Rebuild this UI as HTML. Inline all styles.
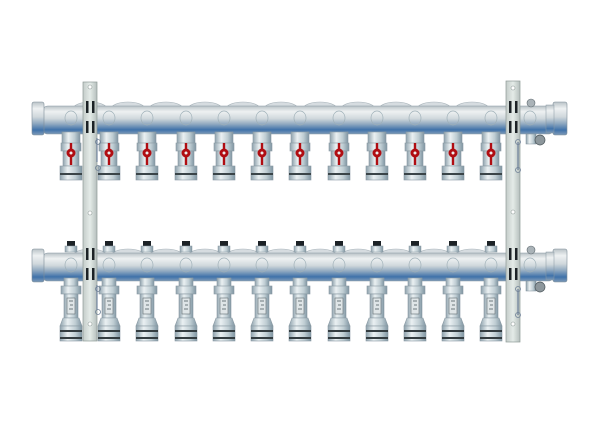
<!DOCTYPE html>
<html><head><meta charset="utf-8"><style>html,body{margin:0;padding:0;background:#fff}svg{display:block}</style></head>
<body>
<svg width="600" height="425" viewBox="0 0 600 425" xmlns="http://www.w3.org/2000/svg">
<defs>
<linearGradient id="bar" x1="0" y1="0" x2="0" y2="1">
<stop offset="0" stop-color="#b9c2c7"/><stop offset="0.2" stop-color="#eef1f2"/><stop offset="0.45" stop-color="#d0d8dc"/><stop offset="0.65" stop-color="#8fa8c0"/><stop offset="0.85" stop-color="#3f72aa"/><stop offset="1" stop-color="#7f9bb8"/>
</linearGradient>
<linearGradient id="part" x1="0" y1="0" x2="1" y2="0">
<stop offset="0" stop-color="#8fa2ad"/><stop offset="0.35" stop-color="#eaf0f2"/><stop offset="0.7" stop-color="#bfcdd3"/><stop offset="1" stop-color="#7f95a2"/>
</linearGradient>
<linearGradient id="brk" x1="0" y1="0" x2="1" y2="0">
<stop offset="0" stop-color="#c4ccc9"/><stop offset="0.5" stop-color="#e4ebe8"/><stop offset="1" stop-color="#b5bfbc"/>
</linearGradient>
<g id="topv">
<rect x="-9" y="132" width="18" height="12" fill="url(#part)" stroke="#8a9aa3" stroke-width="0.6"/>
<rect x="-10" y="143" width="20" height="8" fill="url(#part)" stroke="#8a9aa3" stroke-width="0.6"/>
<rect x="-8" y="151" width="16" height="15" fill="url(#part)" stroke="#8a9aa3" stroke-width="0.6"/>
<rect x="-1.2" y="143" width="2.4" height="22" fill="#b00d12"/>
<circle cx="0" cy="153" r="4.5" fill="#b00d12"/><circle cx="0" cy="153" r="1.5" fill="#eee"/>
<rect x="-11" y="166" width="22" height="14" fill="url(#part)" stroke="#8a9aa3" stroke-width="0.6"/>
<rect x="-11" y="173" width="22" height="2" fill="#3a4448"/>
</g>
<g id="botv">
<rect x="-4" y="241" width="8" height="5" fill="#1c2226"/>
<rect x="-6" y="246" width="12" height="6" fill="url(#part)" stroke="#8a9aa3" stroke-width="0.5"/>
<rect x="-7" y="278" width="14" height="9" fill="url(#part)" stroke="#8a9aa3" stroke-width="0.6"/>
<rect x="-10" y="286" width="20" height="8" fill="url(#part)" stroke="#8a9aa3" stroke-width="0.6"/>
<rect x="-7" y="294" width="14" height="24" fill="url(#part)" stroke="#8a9aa3" stroke-width="0.6"/>
<rect x="-4" y="298" width="8" height="16" fill="#dfe5e7" stroke="#5f6b70" stroke-width="0.6"/>
<path d="M-2 301h4M-1 305h3M-2 309h4" stroke="#4a555a" stroke-width="0.8"/>
<path d="M-8 318 L8 318 L11 326 L-11 326 Z" fill="url(#part)" stroke="#8a9aa3" stroke-width="0.6"/>
<rect x="-11" y="326" width="22" height="15" fill="url(#part)" stroke="#8a9aa3" stroke-width="0.6"/>
<rect x="-11" y="330" width="22" height="2" fill="#333c40"/>
<rect x="-11" y="337" width="22" height="2" fill="#333c40"/>
</g>
<g id="bar1">
<g fill="#d6dce0" stroke="#a9b4ba" stroke-width="0.6">
<ellipse cx="90" cy="7" rx="17" ry="7"/><ellipse cx="128" cy="7" rx="17" ry="7"/><ellipse cx="166" cy="7" rx="17" ry="7"/><ellipse cx="205" cy="7" rx="17" ry="7"/><ellipse cx="243" cy="7" rx="17" ry="7"/><ellipse cx="281" cy="7" rx="17" ry="7"/><ellipse cx="320" cy="7" rx="17" ry="7"/><ellipse cx="358" cy="7" rx="17" ry="7"/><ellipse cx="396" cy="7" rx="17" ry="7"/><ellipse cx="434" cy="7" rx="17" ry="7"/><ellipse cx="472" cy="7" rx="17" ry="7"/>
</g>
<rect x="42" y="4" width="512" height="28" rx="6" fill="url(#bar)" stroke="#8797a2" stroke-width="0.6"/>
<g fill="none" stroke="#9fb0b8" stroke-width="0.7">
<ellipse cx="71" cy="16" rx="6" ry="7"/><ellipse cx="109" cy="16" rx="6" ry="7"/><ellipse cx="147" cy="16" rx="6" ry="7"/><ellipse cx="186" cy="16" rx="6" ry="7"/><ellipse cx="224" cy="16" rx="6" ry="7"/><ellipse cx="262" cy="16" rx="6" ry="7"/><ellipse cx="300" cy="16" rx="6" ry="7"/><ellipse cx="339" cy="16" rx="6" ry="7"/><ellipse cx="377" cy="16" rx="6" ry="7"/><ellipse cx="415" cy="16" rx="6" ry="7"/><ellipse cx="453" cy="16" rx="6" ry="7"/><ellipse cx="491" cy="16" rx="6" ry="7"/><ellipse cx="530" cy="16" rx="6" ry="7"/>
</g>
<rect x="32" y="0" width="12" height="33" rx="2" fill="url(#bar)" stroke="#7e8e98" stroke-width="0.6"/>
<rect x="553" y="0" width="14" height="33" rx="2" fill="url(#bar)" stroke="#7e8e98" stroke-width="0.6"/>
<rect x="546" y="3" width="8" height="28" fill="url(#bar)" stroke="#8797a2" stroke-width="0.5"/>
<circle cx="531" cy="1" r="4" fill="#aab3b8" stroke="#5d686e" stroke-width="0.6"/>
<rect x="526" y="32" width="10" height="10" fill="url(#part)" stroke="#7e8e98" stroke-width="0.5"/>
<circle cx="540" cy="38" r="5" fill="#8d979c" stroke="#4c565b" stroke-width="0.7"/>
</g>
</defs>

<!-- top bar -->
<g transform="translate(0,102)"><use href="#bar1"/></g>
<!-- bottom bar -->
<g transform="translate(0,249)"><use href="#bar1"/></g>

<!-- valves -->
<use href="#topv" x="71"/><use href="#topv" x="109"/><use href="#topv" x="147"/><use href="#topv" x="186"/><use href="#topv" x="224"/><use href="#topv" x="262"/><use href="#topv" x="300"/><use href="#topv" x="339"/><use href="#topv" x="377"/><use href="#topv" x="415"/><use href="#topv" x="453"/><use href="#topv" x="491"/>
<use href="#botv" x="71"/><use href="#botv" x="109"/><use href="#botv" x="147"/><use href="#botv" x="186"/><use href="#botv" x="224"/><use href="#botv" x="262"/><use href="#botv" x="300"/><use href="#botv" x="339"/><use href="#botv" x="377"/><use href="#botv" x="415"/><use href="#botv" x="453"/><use href="#botv" x="491"/>

<!-- brackets (in front) -->
<rect x="83" y="82" width="14" height="259" fill="url(#brk)" stroke="#8e9a97" stroke-width="0.7"/>
<rect x="506" y="81" width="14" height="261" fill="url(#brk)" stroke="#8e9a97" stroke-width="0.7"/>
<g fill="#fff" stroke="#8e9a97" stroke-width="0.6">
<circle cx="90" cy="87" r="2"/><circle cx="90" cy="213" r="2"/><circle cx="90" cy="324" r="2"/>
<circle cx="513" cy="88" r="2"/><circle cx="513" cy="212" r="2"/><circle cx="513" cy="324" r="2"/>
</g>
<path d="M97 138v24M97 285v25M518 142v28M518 289v26" stroke="#5a7090" stroke-width="1"/>
<g fill="none" stroke="#6f8196" stroke-width="0.8">
<circle cx="98" cy="142" r="2.5"/><circle cx="98" cy="168" r="2.5"/><circle cx="98" cy="289" r="2.5"/><circle cx="98" cy="312" r="2.5"/>
<circle cx="518" cy="142" r="2.5"/><circle cx="518" cy="170" r="2.5"/><circle cx="518" cy="289" r="2.5"/><circle cx="518" cy="315" r="2.5"/>
</g>

<!-- clamp marks -->
<g fill="#1c2226">
<rect x="86" y="101" width="2.5" height="12"/><rect x="92" y="101" width="2.5" height="12"/><rect x="86" y="121" width="2.5" height="12"/><rect x="92" y="121" width="2.5" height="12"/>
<rect x="86" y="248" width="2.5" height="12"/><rect x="92" y="248" width="2.5" height="12"/><rect x="86" y="268" width="2.5" height="12"/><rect x="92" y="268" width="2.5" height="12"/>
<rect x="509" y="101" width="2.5" height="12"/><rect x="515" y="101" width="2.5" height="12"/><rect x="509" y="121" width="2.5" height="12"/><rect x="515" y="121" width="2.5" height="12"/>
<rect x="509" y="248" width="2.5" height="12"/><rect x="515" y="248" width="2.5" height="12"/><rect x="509" y="268" width="2.5" height="12"/><rect x="515" y="268" width="2.5" height="12"/>
</g>
</svg>
</body></html>
